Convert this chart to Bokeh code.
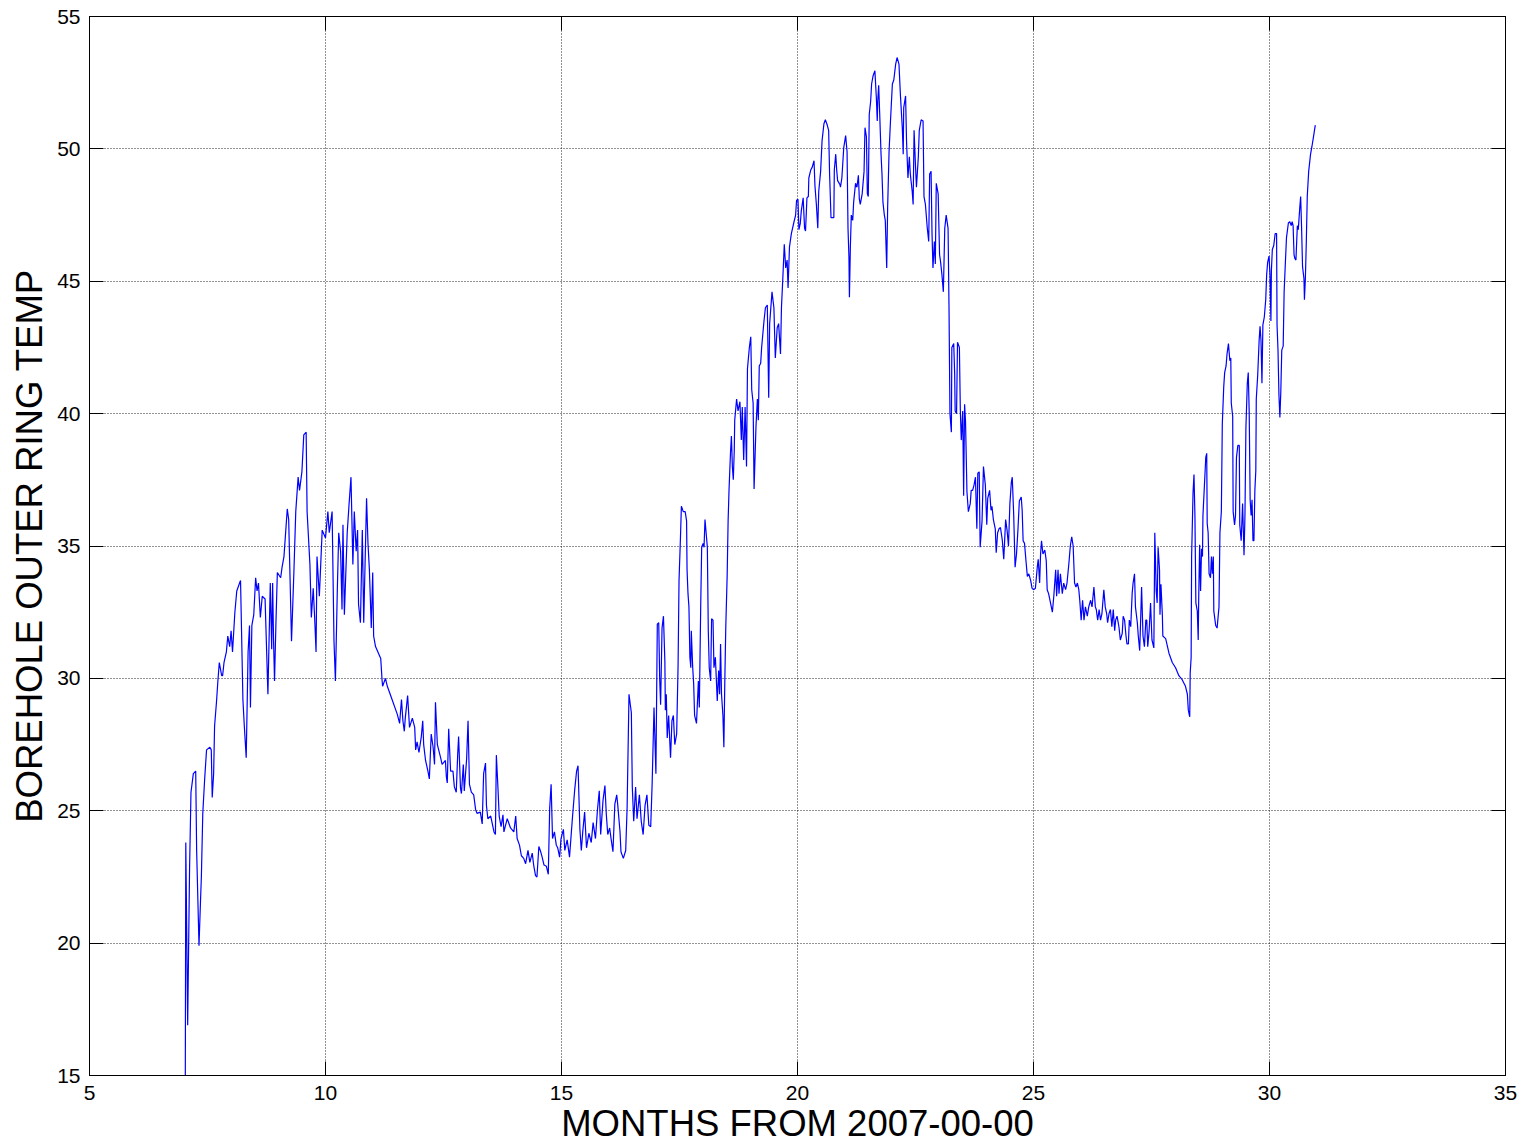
from bokeh.plotting import figure
from bokeh.models import Range1d, FixedTicker, LinearAxis, CustomLabelingPolicy
from bokeh.embed import file_html
from bokeh.resources import INLINE

# ---- data ----
x_ticks = [5, 10, 15, 20, 25, 30, 35]
y_ticks = [15, 20, 25, 30, 35, 40, 45, 50, 55]

# 2007 warm-up (months 7 - 11)
seg_a_x = [7.03, 7.04, 7.08, 7.12, 7.15, 7.2, 7.25, 7.27, 7.32, 7.35,
           7.37, 7.4, 7.44, 7.48, 7.55, 7.58, 7.6, 7.63, 7.65, 7.69,
           7.72, 7.75, 7.8, 7.82, 7.85, 7.9, 7.93, 7.97, 8.0, 8.03,
           8.08, 8.12, 8.18, 8.2, 8.25, 8.28, 8.32, 8.36, 8.39, 8.41,
           8.44, 8.48, 8.52, 8.55, 8.58, 8.62, 8.66, 8.72, 8.78, 8.83,
           8.86, 8.88, 8.9, 8.92, 8.95, 8.98, 9.05, 9.08, 9.12, 9.19,
           9.22, 9.28, 9.33, 9.37, 9.42, 9.45, 9.5, 9.54, 9.59, 9.61,
           9.67, 9.7, 9.74, 9.77, 9.8, 9.82, 9.87, 9.93, 10.0, 10.05,
           10.08, 10.14, 10.18, 10.21, 10.25, 10.28, 10.32, 10.35, 10.37, 10.4,
           10.46, 10.5, 10.54, 10.58, 10.61, 10.65, 10.68, 10.7, 10.74, 10.78,
           10.81, 10.87, 10.9, 10.93, 10.97, 11.0, 11.02]
seg_a_y = [15.0, 23.8, 16.9, 22.8, 25.7, 26.4, 26.5, 23.5, 19.9, 21.5,
           22.5, 24.9, 26.2, 27.3, 27.4, 27.3, 25.5, 26.4, 28.2, 29.1,
           29.9, 30.6, 30.1, 30.1, 30.6, 31.0, 31.6, 31.2, 31.8, 31.0,
           32.5, 33.3, 33.6, 33.7, 29.2, 28.2, 27.0, 31.0, 32.0, 28.9,
           32.0, 32.4, 33.8, 33.3, 33.6, 32.3, 33.1, 33.0, 29.4, 33.6,
           31.1, 33.6, 31.4, 29.9, 32.1, 34.0, 33.8, 34.2, 34.6, 36.4,
           36.0, 31.4, 34.0, 36.3, 37.6, 37.1, 37.8, 39.2, 39.3, 36.3,
           34.3, 32.3, 33.4, 32.3, 31.0, 34.6, 33.1, 35.6, 35.3, 36.3,
           35.5, 36.3, 31.4, 29.9, 33.3, 35.5, 34.8, 32.6, 35.8, 32.4,
           35.5, 36.6, 37.6, 34.3, 36.3, 34.8, 35.6, 32.8, 32.1, 35.6,
           32.1, 36.8, 35.1, 34.1, 31.9, 34.0, 31.6]

# decline to the first minimum (months 11 - 17)
seg_b_x = [11.06, 11.17, 11.20, 11.21, 11.27, 11.31, 11.41, 11.52, 11.57, 11.61,
           11.64, 11.67, 11.69, 11.74, 11.78, 11.84, 11.89, 11.91, 11.94, 11.98,
           12.03, 12.06, 12.08, 12.12, 12.17, 12.20, 12.24, 12.28, 12.31, 12.33,
           12.37, 12.44, 12.47, 12.54, 12.56, 12.58, 12.61, 12.65, 12.70, 12.73,
           12.77, 12.80, 12.82, 12.86, 12.88, 12.92, 12.94, 12.99, 13.02, 13.05,
           13.09, 13.14, 13.18, 13.21, 13.28, 13.32, 13.35, 13.39, 13.41, 13.44,
           13.50, 13.57, 13.60, 13.62, 13.65, 13.68, 13.72, 13.76, 13.78, 13.85,
           13.92, 13.99, 14.03, 14.06, 14.11, 14.15, 14.20, 14.24, 14.29, 14.33,
           14.38, 14.41, 14.45, 14.48, 14.52, 14.56, 14.59, 14.63, 14.68, 14.72,
           14.75, 14.78, 14.81, 14.85, 14.89, 14.92, 14.96, 14.99, 15.04, 15.07,
           15.12, 15.17, 15.23, 15.28, 15.32, 15.35, 15.39, 15.42, 15.45, 15.49,
           15.53, 15.58, 15.63, 15.67, 15.72, 15.76, 15.80, 15.83, 15.88, 15.92,
           15.95, 15.98, 16.02, 16.05, 16.09, 16.13, 16.17, 16.19, 16.24, 16.26,
           16.31, 16.36, 16.39, 16.43, 16.48, 16.50, 16.53, 16.57, 16.60, 16.65,
           16.69, 16.73, 16.77, 16.81, 16.85, 16.89, 16.92]
seg_b_y = [31.2, 30.75, 29.9, 29.7, 30.0, 29.7, 29.2, 28.65, 28.3, 29.2,
           28.4, 28.0, 28.5, 29.35, 28.15, 28.5, 28.15, 27.3, 27.6, 27.2,
           27.8, 28.4, 27.5, 26.9, 26.5, 26.2, 27.9, 27.4, 26.75, 29.1,
           27.5, 27.0, 26.75, 26.9, 26.3, 26.05, 28.1, 26.5, 26.5, 25.9,
           25.7, 27.1, 27.8, 25.85, 25.65, 26.75, 25.75, 26.95, 28.4, 26.0,
           25.7, 25.6, 25.05, 24.9, 24.95, 24.5, 26.4, 26.8, 25.2, 24.7,
           24.8, 24.2, 24.1, 27.1, 26.0, 24.8, 24.4, 24.85, 24.2, 24.7,
           24.35, 24.2, 24.8, 23.95, 23.7, 23.3, 23.2, 23.0, 23.5, 23.05,
           23.4, 22.95, 22.55, 22.5, 23.65, 23.45, 23.25, 22.95, 22.9, 22.6,
           25.1, 26.0, 23.95, 24.2, 23.7, 23.6, 23.25, 23.95, 24.3, 23.5,
           23.9, 23.25, 24.7, 25.8, 26.5, 26.7, 24.3, 23.5, 24.2, 24.95,
           23.6, 24.15, 23.8, 24.55, 23.95, 25.0, 25.75, 24.1, 25.4, 25.95,
           24.85, 24.1, 24.35, 23.95, 23.45, 25.25, 25.6, 25.25, 24.2, 23.45,
           23.2, 23.5, 25.1, 29.4, 28.7, 25.9, 24.6, 25.9, 24.7, 25.6,
           24.6, 24.1, 25.2, 25.6, 24.45, 24.4, 26.0]

# rise (months 17 - 19.3)
seg_c_x = [16.96, 17.00, 17.03, 17.06, 17.08, 17.10, 17.13, 17.16, 17.19, 17.20,
           17.22, 17.24, 17.27, 17.31, 17.34, 17.37, 17.40, 17.44, 17.47, 17.49,
           17.52, 17.54, 17.58, 17.62, 17.65, 17.66, 17.68, 17.70, 17.72, 17.74,
           17.75, 17.78, 17.80, 17.82, 17.86, 17.90, 17.92, 17.95, 17.97, 18.00,
           18.02, 18.04, 18.09, 18.11, 18.13, 18.16, 18.18, 18.21, 18.23, 18.26,
           18.30, 18.33, 18.35, 18.37, 18.39, 18.42, 18.44, 18.46, 18.48, 18.51,
           18.53, 18.55, 18.58, 18.60, 18.62, 18.64, 18.66, 18.67, 18.71, 18.74,
           18.78, 18.81, 18.83, 18.86, 18.89, 18.92, 18.94, 18.98, 19.01, 19.03,
           19.06, 19.08, 19.12, 19.15, 19.17, 19.19, 19.22, 19.24]
seg_c_y = [28.9, 26.4, 32.05, 32.1, 30.0, 29.0, 31.9, 32.35, 30.65, 28.8,
           29.4, 27.75, 28.6, 27.0, 28.4, 28.6, 27.5, 27.9, 30.5, 33.7,
           35.3, 36.5, 36.3, 36.3, 35.95, 34.1, 33.2, 32.7, 30.8, 30.4,
           31.8, 30.4, 29.8, 28.6, 28.3, 29.9, 28.9, 32.8, 34.95, 35.1,
           34.95, 36.0, 34.95, 31.8, 30.4, 29.9, 32.25, 32.2, 30.4, 30.8,
           29.15, 30.3, 29.4, 31.3, 29.4, 28.6, 27.4, 29.9, 31.9, 33.9,
           35.95, 37.15, 38.5, 39.15, 38.0, 37.5, 38.6, 39.75, 40.55, 40.1,
           40.45, 39.0, 40.25, 38.25, 40.25, 38.0, 41.7, 42.5, 42.9, 40.9,
           40.4, 37.15, 39.5, 40.55, 39.75, 41.8, 41.9, 42.5]

# summer maximum (months 19.3 - 23.2)
seg_d_x = [19.29, 19.32, 19.36, 19.39, 19.41, 19.46, 19.50, 19.53, 19.57, 19.60,
           19.64, 19.66, 19.69, 19.72, 19.75, 19.78, 19.80, 19.83, 19.87, 19.92,
           19.96, 19.98, 20.01, 20.03, 20.06, 20.08, 20.12, 20.15, 20.17, 20.20,
           20.23, 20.24, 20.28, 20.31, 20.35, 20.37, 20.40, 20.43, 20.45, 20.49,
           20.52, 20.56, 20.59, 20.63, 20.66, 20.68, 20.71, 20.73, 20.77, 20.78,
           20.81, 20.83, 20.85, 20.90, 20.91, 20.94, 20.98, 21.02, 21.05, 21.07,
           21.09, 21.10, 21.12, 21.14, 21.17, 21.19, 21.23, 21.26, 21.29, 21.31,
           21.33, 21.37, 21.41, 21.43, 21.46, 21.48, 21.50, 21.52, 21.55, 21.57,
           21.60, 21.64, 21.67, 21.69, 21.70, 21.72, 21.74, 21.77, 21.79, 21.81,
           21.84, 21.86, 21.89, 21.91, 21.94, 21.97, 22.01, 22.04, 22.08, 22.11,
           22.15, 22.18, 22.22, 22.24, 22.25, 22.29, 22.31, 22.34, 22.37, 22.39,
           22.43, 22.45, 22.47, 22.50, 22.52, 22.56, 22.58, 22.62, 22.66, 22.68,
           22.71, 22.75, 22.78, 22.80, 22.83, 22.85, 22.87, 22.90, 22.92, 22.94,
           22.98, 23.01, 23.03, 23.06, 23.09, 23.12, 23.15, 23.19, 23.21]
seg_d_y = [43.5, 44.0, 44.1, 40.6, 43.4, 44.6, 44.0, 42.1, 43.25, 43.4,
           42.25, 44.0, 45.15, 46.4, 45.5, 45.8, 44.75, 46.3, 46.8, 47.2,
           47.5, 48.05, 48.1, 46.95, 47.2, 47.65, 48.15, 47.0, 46.9, 48.15,
           48.2, 48.9, 49.2, 49.3, 49.55, 48.6, 47.9, 47.0, 48.4, 49.15,
           50.3, 50.95, 51.1, 50.9, 50.7, 49.05, 47.4, 47.4, 47.4, 49.2,
           49.8, 49.2, 48.8, 48.65, 48.55, 48.9, 50.05, 50.5, 49.9, 47.0,
           45.9, 44.4, 46.3, 47.5, 47.3, 48.0, 48.7, 48.55, 49.0, 48.1,
           47.9, 48.3, 49.15, 50.8, 50.45, 48.3, 48.2, 51.3, 51.8, 52.45,
           52.75, 52.95, 51.95, 51.05, 51.8, 52.4, 51.4, 49.8, 49.05, 48.0,
           47.5, 47.3, 45.5, 47.8, 49.9, 51.05, 52.45, 52.6, 53.2, 53.45,
           53.2, 52.05, 50.8, 49.8, 51.55, 52.0, 50.3, 48.9, 49.7, 49.05,
           48.4, 47.9, 50.7, 49.35, 48.55, 49.7, 50.7, 51.1, 51.05, 48.2,
           47.9, 47.0, 46.5, 49.05, 49.15, 46.8, 45.5, 46.5, 45.65, 48.7,
           48.3, 46.0, 45.75, 45.25, 44.6, 47.0, 47.5, 47.0, 44.0]

# fast drop (months 23.2 - 24.3)
seg_e_x = [23.23, 23.26, 23.27, 23.31, 23.33, 23.34, 23.37, 23.39, 23.43, 23.45,
           23.47, 23.50, 23.52, 23.54, 23.56, 23.59, 23.62, 23.66, 23.68, 23.71,
           23.74, 23.77, 23.80, 23.82, 23.85, 23.87, 23.91, 23.94, 23.98, 24.01,
           24.03, 24.07, 24.10, 24.12, 24.15, 24.19, 24.21, 24.24, 24.27]
seg_e_y = [40.0, 39.3, 42.5, 42.65, 41.5, 40.1, 40.0, 42.7, 42.5, 40.1,
           39.0, 40.1, 36.9, 40.35, 39.7, 37.05, 36.3, 36.6, 37.1, 37.1,
           37.3, 37.6, 35.65, 37.75, 37.8, 34.95, 35.95, 38.0, 37.3, 35.8,
           36.8, 37.1, 36.35, 36.5, 36.0, 35.65, 34.75, 35.5, 35.65]

# second winter plateau (months 24.3 - 27.5)
seg_f_x = [24.30, 24.34, 24.37, 24.41, 24.44, 24.47, 24.50, 24.53, 24.55, 24.58,
           24.61, 24.64, 24.67, 24.70, 24.74, 24.76, 24.78, 24.81, 24.84, 24.87,
           24.90, 24.94, 24.97, 25.00, 25.04, 25.08, 25.10, 25.13, 25.15, 25.17,
           25.20, 25.24, 25.27, 25.29, 25.32, 25.36, 25.40, 25.43, 25.47, 25.49,
           25.52, 25.54, 25.57, 25.61, 25.64, 25.68, 25.71, 25.75, 25.78, 25.81,
           25.84, 25.87, 25.90, 25.93, 25.96, 25.98, 26.01, 26.04, 26.07, 26.10,
           26.14, 26.17, 26.21, 26.24, 26.28, 26.31, 26.33, 26.36, 26.39, 26.42,
           26.45, 26.49, 26.52, 26.55, 26.57, 26.60, 26.63, 26.66, 26.69, 26.72,
           26.74, 26.77, 26.81, 26.84, 26.88, 26.90, 26.93, 26.96, 26.98, 27.01,
           27.03, 27.06, 27.09, 27.11, 27.14, 27.16, 27.20, 27.22, 27.25, 27.27,
           27.29, 27.32, 27.35, 27.38, 27.40, 27.42, 27.45]
seg_f_y = [35.7, 35.2, 34.5, 36.0, 35.6, 35.0, 36.6, 37.4, 37.6, 36.2,
           34.2, 34.7, 35.6, 36.7, 36.85, 36.35, 35.2, 35.1, 34.45, 33.85,
           33.95, 33.7, 33.4, 33.35, 33.4, 34.2, 34.5, 33.6, 34.7, 35.2,
           34.7, 34.85, 34.45, 33.35, 33.2, 32.85, 32.5, 33.1, 34.1, 33.1,
           34.1, 33.2, 33.95, 33.2, 33.6, 33.35, 33.6, 34.35, 35.0, 35.35,
           35.0, 33.6, 33.45, 33.6, 33.35, 32.95, 32.2, 32.95, 32.2, 32.7,
           32.35, 32.7, 32.95, 32.7, 33.45, 32.7, 32.6, 32.2, 32.6, 32.2,
           32.45, 33.35, 32.7, 32.45, 32.1, 32.45, 32.6, 31.95, 32.6, 31.8,
           32.2, 32.35, 31.95, 31.45, 31.7, 32.35, 32.2, 31.6, 31.3, 31.3,
           32.2, 31.95, 33.2, 33.6, 33.95, 32.7, 32.1, 31.6, 31.05, 32.2,
           33.45, 31.6, 31.2, 32.2, 32.2, 31.2, 31.8]

# final rise (months 27.5 - 31)
seg_g_x = [27.48, 27.51, 27.55, 27.57, 27.60, 27.62, 27.64, 27.67, 27.68, 27.70,
           27.73, 27.74, 27.80, 27.87, 27.94, 28.01, 28.08, 28.15, 28.22, 28.26,
           28.28, 28.31, 28.32, 28.34, 28.35, 28.38, 28.40, 28.42, 28.44, 28.47,
           28.49, 28.50, 28.52, 28.54, 28.56, 28.58, 28.59, 28.62, 28.65, 28.67,
           28.68, 28.70, 28.72, 28.75, 28.77, 28.79, 28.81, 28.82, 28.86, 28.89,
           28.93, 28.95, 28.98, 29.00, 29.03, 29.05, 29.08, 29.10, 29.13, 29.16,
           29.18, 29.19, 29.22, 29.23, 29.26, 29.28, 29.30, 29.33, 29.36, 29.37,
           29.40, 29.43, 29.46, 29.48, 29.50, 29.53, 29.55, 29.57, 29.59, 29.61,
           29.63, 29.65, 29.67, 29.69, 29.71, 29.72, 29.75, 29.78, 29.80, 29.82,
           29.84, 29.86, 29.89, 29.92, 29.94, 29.96, 29.99, 30.01, 30.03, 30.04,
           30.06, 30.09, 30.12, 30.15, 30.16, 30.18, 30.20, 30.22, 30.24, 30.26,
           30.29, 30.31, 30.34, 30.36, 30.40, 30.43, 30.46, 30.48, 30.50, 30.52,
           30.54, 30.56, 30.59, 30.61, 30.64, 30.66, 30.68, 30.70, 30.73, 30.74,
           30.76, 30.78, 30.80, 30.83, 30.87, 30.90, 30.94, 30.97]
seg_g_y = [32.85, 31.45, 31.15, 35.5, 33.3, 32.85, 34.95, 34.1, 32.4, 33.55,
           32.4, 31.6, 31.5, 30.95, 30.6, 30.4, 30.1, 29.95, 29.7, 29.4,
           28.8, 28.55, 30.2, 30.8, 34.6, 37.0, 37.7, 36.15, 32.85, 32.55,
           31.45, 33.0, 35.05, 33.3, 34.9, 34.6, 36.15, 37.25, 38.35, 38.5,
           35.85, 35.5, 33.95, 33.8, 34.6, 33.95, 34.6, 32.55, 32.0, 31.9,
           32.7, 35.5, 36.3, 39.6, 41.0, 41.55, 41.8, 42.25, 42.65, 42.0,
           42.1, 40.4, 39.9, 36.3, 35.8, 36.15, 38.35, 38.8, 38.8, 35.8,
           35.2, 36.6, 34.65, 36.15, 39.45, 41.15, 41.55, 40.05, 36.75, 36.15,
           36.75, 35.2, 35.2, 37.1, 37.85, 40.55, 41.45, 42.75, 43.3, 42.75,
           41.15, 43.35, 43.65, 44.3, 45.25, 45.7, 45.95, 45.25, 43.5, 45.4,
           46.2, 46.35, 46.8, 46.8, 43.35, 42.4, 40.7, 39.85, 40.85, 42.4,
           42.55, 44.6, 45.85, 46.65, 47.2, 47.25, 47.1, 47.25, 47.1, 46.0,
           45.85, 45.8, 47.1, 46.95, 47.75, 48.2, 47.0, 45.55, 45.1, 44.3,
           45.1, 46.5, 48.2, 49.15, 49.8, 50.1, 50.55, 50.9]

months = []
temp = []
for sx, sy in [(seg_a_x, seg_a_y), (seg_b_x, seg_b_y), (seg_c_x, seg_c_y),
               (seg_d_x, seg_d_y), (seg_e_x, seg_e_y), (seg_f_x, seg_f_y),
               (seg_g_x, seg_g_y)]:
    n = min(len(sx), len(sy))
    months += sx[:n]
    temp += sy[:n]

FONT = "Liberation Sans"

p = figure(width=1528, height=1146, output_backend="svg", toolbar_location=None,
           x_range=Range1d(5, 35), y_range=Range1d(15, 55),
           min_border_left=89, min_border_right=23,
           min_border_top=16, min_border_bottom=71)
p.background_fill_color = "white"
p.border_fill_color = "white"
p.outline_line_color = "black"
p.outline_line_width = 1

p.line(months, temp, line_color="#0000ff", line_width=1.2)

xt = FixedTicker(ticks=x_ticks)
yt = FixedTicker(ticks=y_ticks)

def style_axis(ax, ticker):
    ax.ticker = ticker
    ax.major_tick_in = 14
    ax.major_tick_out = 0
    ax.minor_tick_in = 0
    ax.minor_tick_out = 0
    ax.axis_line_color = "black"
    ax.major_tick_line_color = "black"
    ax.major_label_text_font = FONT
    ax.major_label_text_font_size = "21px"
    ax.major_label_text_color = "black"
    ax.axis_label_text_font = FONT
    ax.axis_label_text_font_size = "36.5px"
    ax.axis_label_text_font_style = "normal"
    ax.axis_label_text_color = "black"

xa = p.xaxis[0]
style_axis(xa, xt)
xa.axis_label = "MONTHS FROM 2007-00-00"
xa.major_label_standoff = 10
xa.axis_label_standoff = 0

ya = p.yaxis[0]
style_axis(ya, yt)
ya.axis_label = "BOREHOLE OUTER RING TEMP"
ya.major_label_standoff = 9
ya.axis_label_standoff = 4

# box axes on top and right: ticks only, no labels and no reserved space
no_labels = CustomLabelingPolicy(code="""
    for (const i of indices) { indices.unset(i) }
    return indices
""")

top = LinearAxis()
style_axis(top, xt)
top.major_label_text_font_size = "0px"
top.major_label_standoff = 0
top.major_label_policy = no_labels
p.add_layout(top, "above")

right = LinearAxis()
style_axis(right, yt)
right.major_label_text_font_size = "0px"
right.major_label_standoff = 0
right.major_label_policy = no_labels
p.add_layout(right, "right")

for g, t in ((p.xgrid[0], xt), (p.ygrid[0], yt)):
    g.ticker = t
    g.grid_line_color = "black"
    g.grid_line_dash = "1 2"
    g.grid_line_width = 1
    g.grid_line_alpha = 0.85

open("out.html", "w").write(file_html(p, INLINE))
